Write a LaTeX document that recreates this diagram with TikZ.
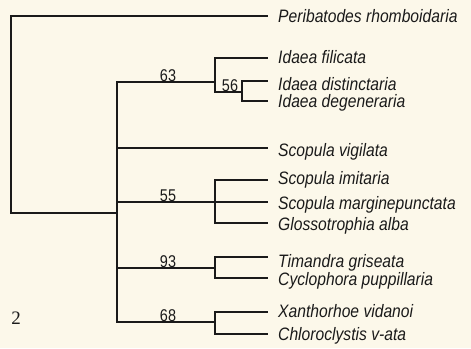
\documentclass[tikz,border=0pt]{standalone}
\usepackage{fontspec}
\setmainfont{Liberation Sans}
\newfontfamily\narrowsans[FakeStretch=0.87]{Liberation Sans}
\newfontfamily\numsans[FakeStretch=0.85]{Liberation Sans}
\newfontfamily\serifnum{Liberation Serif}
\definecolor{paper}{HTML}{FCF8EA}
\definecolor{ink}{HTML}{1A1A1A}
\begin{document}
\begin{tikzpicture}[x=1pt,y=-1pt,
  branch/.style={draw=ink,line width=1.6pt,line join=miter},
  leaf/.style={anchor=base west,inner sep=0pt,text=ink,
    font=\narrowsans\fontsize{18}{18}\selectfont\itshape},
  support/.style={anchor=base,inner sep=0pt,text=ink,
    font=\numsans\fontsize{17}{17}\selectfont}]
\fill[paper] (0,0) rectangle (471,348);
\useasboundingbox (0,0) rectangle (471,348);

% internal nodes of the tree
\coordinate (R) at (11,115);
\coordinate (A) at (117,213);
\coordinate (B) at (215,82);
\coordinate (C) at (242,92);
\coordinate (D) at (215,202);
\coordinate (E) at (215,268);
\coordinate (F) at (215,322);

% branch tips
\coordinate (tPer) at (268,16);
\coordinate (tFil) at (268,58);
\coordinate (tDis) at (268,81);
\coordinate (tDeg) at (268,101);
\coordinate (tVig) at (268,148);
\coordinate (tImi) at (268,180);
\coordinate (tMar) at (268,202);
\coordinate (tGlo) at (268,223);
\coordinate (tTim) at (268,257);
\coordinate (tCyc) at (268,278);
\coordinate (tXan) at (268,312);
\coordinate (tChl) at (268,334);

% taxon names
\node[leaf] (Per) at (278,22)  {Peribatodes rhomboidaria};
\node[leaf] (Fil) at (278,63)  {Idaea filicata};
\node[leaf] (Dis) at (278,90)  {Idaea distinctaria};
\node[leaf] (Deg) at (278,107) {Idaea degeneraria};
\node[leaf] (Vig) at (278,156) {Scopula vigilata};
\node[leaf] (Imi) at (278,184) {Scopula imitaria};
\node[leaf] (Mar) at (278,209) {Scopula marginepunctata};
\node[leaf] (Glo) at (278,230) {Glossotrophia alba};
\node[leaf] (Tim) at (278,267) {Timandra griseata};
\node[leaf] (Cyc) at (278,285) {Cyclophora puppillaria};
\node[leaf] (Xan) at (278,317) {Xanthorhoe vidanoi};
\node[leaf] (Chl) at (278,340) {Chloroclystis v-ata};

% branches
\draw[branch] (R) |- (tPer);
\draw[branch] (R) |- (A);
\draw[branch] (A) |- (B);
\draw[branch] (A) |- (tVig);
\draw[branch] (A) |- (D);
\draw[branch] (A) |- (E);
\draw[branch] (A) |- (F);
\draw[branch] (B) |- (tFil);
\draw[branch] (B) |- (C);
\draw[branch] (C) |- (tDis);
\draw[branch] (C) |- (tDeg);
\draw[branch] (D) |- (tImi);
\draw[branch] (D) |- (tMar);
\draw[branch] (D) |- (tGlo);
\draw[branch] (E) |- (tTim);
\draw[branch] (E) |- (tCyc);
\draw[branch] (F) |- (tXan);
\draw[branch] (F) |- (tChl);

% bootstrap support values
\node[support] (s63) at (168,81)  {63};
\node[support] (s56) at (230,91)  {56};
\node[support] (s55) at (168,201) {55};
\node[support] (s93) at (168,267) {93};
\node[support] (s68) at (168,321) {68};

% figure number
\node[anchor=base,inner sep=0pt,text=ink,font=\serifnum\fontsize{19}{19}\selectfont] (fig) at (16,324) {2};
\end{tikzpicture}
\end{document}
